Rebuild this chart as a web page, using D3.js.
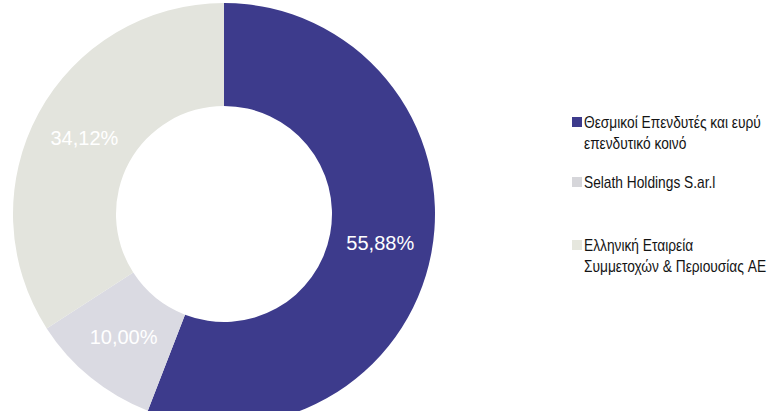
<!DOCTYPE html>
<html>
<head>
<meta charset="utf-8">
<script src="https://cdn.jsdelivr.net/npm/d3@7"></script>
<style>
html,body{margin:0;padding:0;background:#fff;}
svg{display:block;}
</style>
</head>
<body>
<svg id="chart" width="767" height="411"></svg>
<script>
const categories = ["Θεσμικοί Επενδυτές και ευρύ επενδυτικό κοινό", "Selath Holdings S.ar.l", "Ελληνική Εταιρεία Συμμετοχών & Περιουσίας AE"];
const legendLines = [["Θεσμικοί Επενδυτές και ευρύ", "επενδυτικό κοινό"], ["Selath Holdings S.ar.l"], ["Ελληνική Εταιρεία", "Συμμετοχών & Περιουσίας AE"]];
const values = [55.88, 10.00, 34.12];
const valueLabels = ["55,88%", "10,00%", "34,12%"];
const colors = ["#3d3b8c", "#dadae2", "#e3e4dd"];
const swatchColors = ["#3d3b8c", "#d6d6da", "#e6e7de"];

const svg = d3.select("#chart");
const cx = 224, cy = 214, R = 211, r = 108;

const pie = d3.pie().value(d => d).sort(null);
const arcs = pie(values);
const arc = d3.arc().innerRadius(r).outerRadius(R);
const labelArc = d3.arc().innerRadius(159).outerRadius(159);

const g = svg.append("g").attr("transform", `translate(${cx},${cy})`);
g.selectAll("path").data(arcs).enter().append("path")
  .attr("d", arc)
  .attr("fill", (d, i) => colors[i]);

g.selectAll("text").data(arcs).enter().append("text")
  .attr("transform", d => `translate(${labelArc.centroid(d)})`)
  .attr("text-anchor", "middle")
  .attr("dy", "0.36em")
  .attr("font-family", "Liberation Sans, Arial, sans-serif")
  .attr("font-size", 20)
  .attr("fill", "#ffffff")
  .text((d, i) => valueLabels[i]);

const legendY = [122, 182, 245];
const lg = svg.append("g");
legendLines.forEach((lines, i) => {
  const y = legendY[i];
  lg.append("rect").attr("x", 572).attr("y", y - 5).attr("width", 10).attr("height", 10)
    .attr("fill", swatchColors[i]);
  const t = lg.append("text")
    .attr("transform", `translate(584,${y}) scale(0.86,1)`)
    .attr("font-family", "Liberation Sans, Arial, sans-serif")
    .attr("font-size", 16)
    .attr("fill", "#141414");
  lines.forEach((ln, j) => {
    t.append("tspan").attr("x", 0).attr("y", j * 21.5).attr("dy", "0.36em").text(ln);
  });
});
</script>
</body>
</html>
